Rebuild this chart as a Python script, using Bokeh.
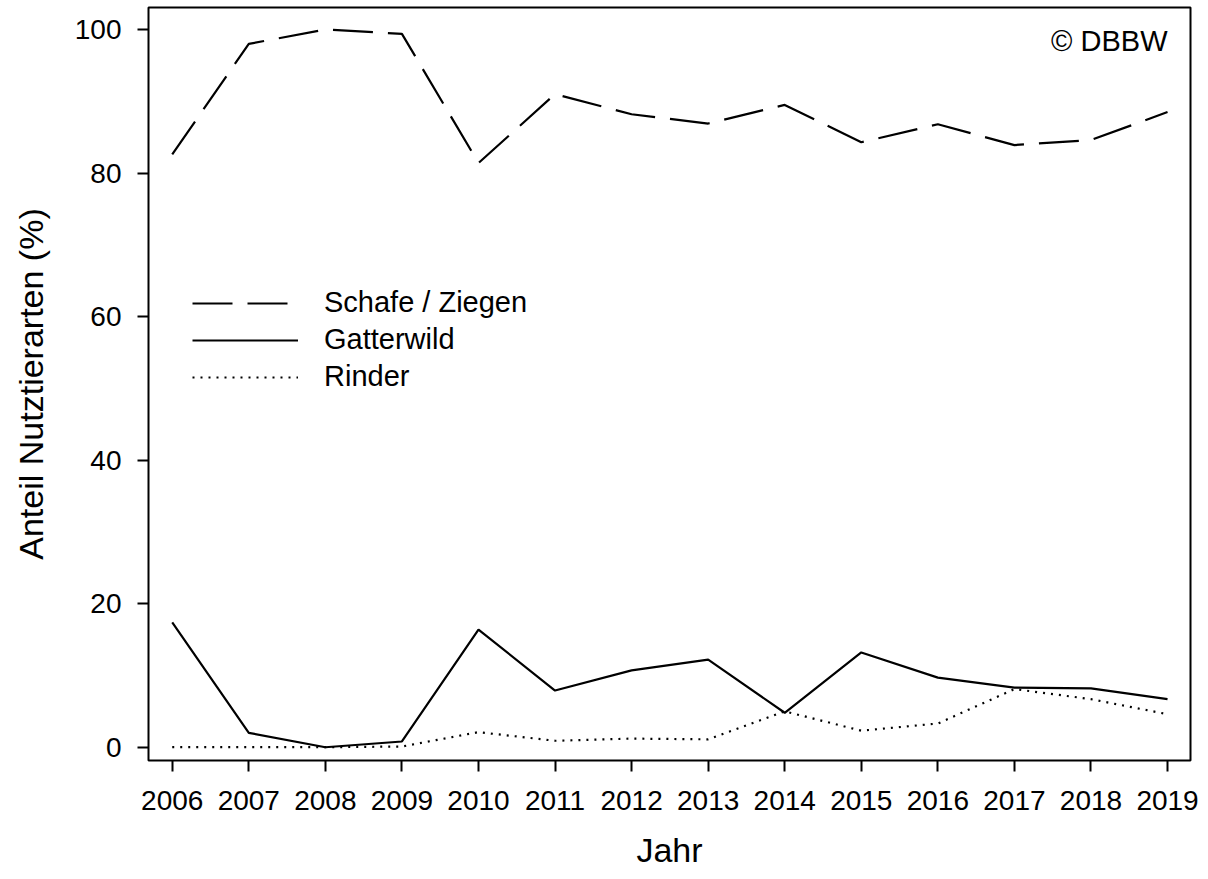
from bokeh.plotting import figure
from bokeh.models import FixedTicker, Legend, LegendItem, Label, Range1d
from bokeh.embed import file_html
from bokeh.resources import INLINE

years = [2006, 2007, 2008, 2009, 2010, 2011, 2012, 2013, 2014, 2015, 2016, 2017, 2018, 2019]
schafe_ziegen = [82.6, 98.0, 100.0, 99.4, 81.4, 91.0, 88.2, 86.9, 89.5, 84.3, 86.8, 83.9, 84.6, 88.5]
gatterwild = [17.4, 2.0, 0.0, 0.8, 16.4, 7.9, 10.7, 12.2, 4.8, 13.2, 9.7, 8.3, 8.2, 6.7]
rinder = [0.0, 0.0, 0.0, 0.1, 2.1, 0.9, 1.2, 1.1, 5.0, 2.3, 3.3, 8.1, 6.7, 4.6]
y_ticks = [0, 20, 40, 60, 80, 100]
series_names = ["Schafe / Ziegen", "Gatterwild", "Rinder"]

FONT = "Liberation Sans"

p = figure(width=1200, height=879, output_backend="svg", toolbar_location=None,
           x_range=Range1d(2005.69, 2019.30), y_range=Range1d(-1.85, 103.07),
           min_border_left=148, min_border_right=10, min_border_top=7, min_border_bottom=119)
p.grid.visible = False
p.background_fill_color = "white"
p.border_fill_color = "white"
p.outline_line_color = "black"
p.outline_line_width = 2
p.outline_line_alpha = 1

r1 = p.line(years, schafe_ziegen, line_color="black", line_width=2.2, line_dash="40 15")
r2 = p.line(years, gatterwild, line_color="black", line_width=2.2)
r3 = p.line(years, rinder, line_color="black", line_width=2.2, line_dash="2 6")

for ax in (p.xaxis[0], p.yaxis[0]):
    ax.axis_line_color = None
    ax.major_tick_in = 0
    ax.major_tick_out = 11
    ax.major_tick_line_width = 2
    ax.major_tick_line_color = "black"
    ax.minor_tick_line_color = None
    ax.major_label_text_font = FONT
    ax.major_label_text_font_size = "28px"
    ax.major_label_text_color = "black"
    ax.axis_label_text_font = FONT
    ax.axis_label_text_font_size = "34px"
    ax.axis_label_text_font_style = "normal"
    ax.axis_label_text_color = "black"

p.xaxis.ticker = FixedTicker(ticks=years)
p.yaxis.ticker = FixedTicker(ticks=y_ticks)
p.xaxis.axis_label = "Jahr"
p.yaxis.axis_label = "Anteil Nutztierarten (%)"
p.xaxis.major_label_standoff = 19
p.yaxis.major_label_standoff = 16
p.xaxis.axis_label_standoff = 18
p.yaxis.axis_label_standoff = 22

legend = Legend(items=[LegendItem(label=series_names[0], renderers=[r1]),
                       LegendItem(label=series_names[1], renderers=[r2]),
                       LegendItem(label=series_names[2], renderers=[r3])],
                location=(44, 367), orientation="vertical",
                glyph_width=106, glyph_height=30, label_height=30, spacing=4,
                label_standoff=26, padding=0, margin=0,
                border_line_color=None, background_fill_alpha=0,
                label_text_font=FONT, label_text_font_size="29px", label_text_color="black")
p.add_layout(legend)

p.add_layout(Label(x=2019, y=98.4, text="© DBBW", text_align="right", text_baseline="middle",
                   text_font=FONT, text_font_size="29px", text_color="black"))

open("out.html", "w").write(file_html(p, INLINE))
